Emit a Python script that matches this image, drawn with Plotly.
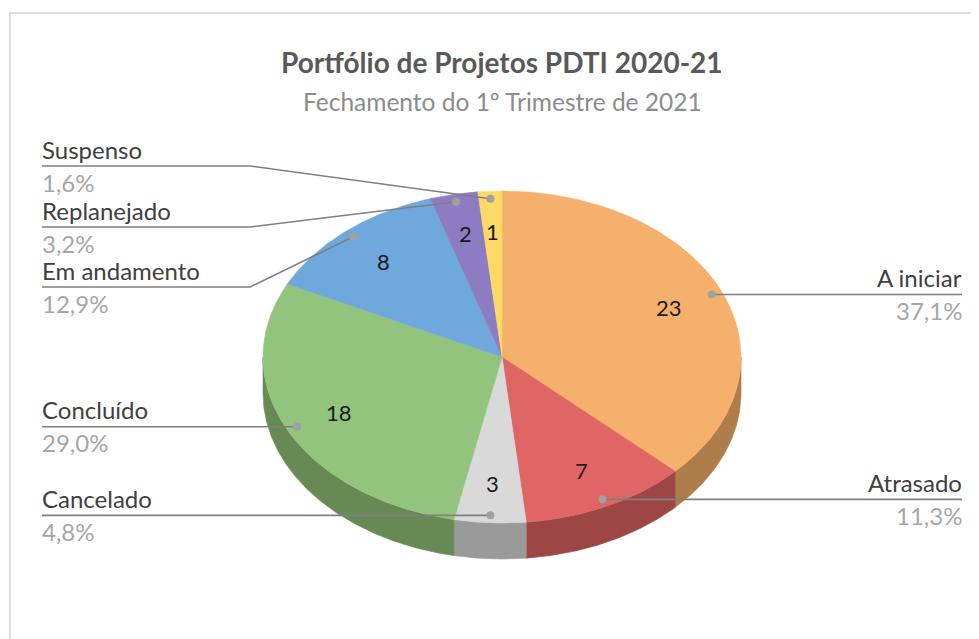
import numpy as np
import plotly.graph_objects as go

# ---------------- data ----------------
categories = ["A iniciar", "Atrasado", "Cancelado", "Concluído", "Em andamento", "Replanejado", "Suspenso"]
values = [23, 7, 3, 18, 8, 2, 1]
title_text = "Portfólio de Projetos PDTI 2020-21"
subtitle_text = "Fechamento do 1º Trimestre de 2021"

# ---------------- style / layout ----------------
top_colors = ["#F5B06B", "#E06666", "#D9D9D9", "#93C47D", "#6FA8DC", "#8E7CC3", "#FFD966"]
side_colors = ["#AE7D4A", "#9E4646", "#9A9A9A", "#678A55", "#4F78A0", "#65588C", "#B89C4A"]
W, H = 979, 639
OFF = 8  # page body margin
CX, CY, RX, RY, DEPTH = 502, 357, 239, 166, 36
VALUE_R = 0.76
DOT_R = 0.955
FONT = "Lato"
LBL_SIZE = 24
# label placement: side and y of the label's horizontal rule (None -> at the dot)
label_side = ["right", "right", "left", "left", "left", "left", "left"]
label_rule_y = [None, None, None, None, 287, 227, 166]
LEFT_X, LEFT_ELBOW, RIGHT_X = 42, 250, 962

total = sum(values)
cum = np.concatenate([[0], np.cumsum(values)]) / total * 360.0


def pt(theta_deg, frac=1.0, dy=0.0):
    t = np.radians(theta_deg)
    return CX + RX * frac * np.sin(t), CY - RY * frac * np.cos(t) + dy


fig = go.Figure()

# side walls (front half only: 90..270 deg)
for i, cat in enumerate(categories):
    a, b = cum[i], cum[i + 1]
    a2, b2 = max(a, 90.0), min(b, 270.0)
    if b2 <= a2:
        continue
    th = np.linspace(a2, b2, max(int((b2 - a2) * 2), 4))
    xs_top, ys_top = pt(th)
    xs_bot, ys_bot = pt(th[::-1], dy=DEPTH)
    xs = np.concatenate([xs_top, xs_bot, [xs_top[0]]])
    ys = np.concatenate([ys_top, ys_bot, [ys_top[0]]])
    fig.add_trace(go.Scatter(x=xs, y=ys, mode="lines", fill="toself",
                             fillcolor=side_colors[i],
                             line=dict(color=side_colors[i], width=0.6),
                             hoverinfo="skip", showlegend=False))

# top faces
for i, cat in enumerate(categories):
    a, b = cum[i], cum[i + 1]
    th = np.linspace(a, b, max(int((b - a) * 2), 4))
    xa, ya = pt(th)
    xs = np.concatenate([[CX], xa, [CX]])
    ys = np.concatenate([[CY], ya, [CY]])
    fig.add_trace(go.Scatter(x=xs, y=ys, mode="lines", fill="toself",
                             fillcolor=top_colors[i],
                             line=dict(color=top_colors[i], width=0.6),
                             hoverinfo="text", text=f"{cat}: {values[i]}",
                             showlegend=False))

annotations = []
# value labels inside slices
for i, cat in enumerate(categories):
    mid = (cum[i] + cum[i + 1]) / 2
    vx, vy = pt(mid, VALUE_R)
    annotations.append(dict(x=vx, y=vy, text=str(values[i]), showarrow=False,
                            font=dict(family=FONT, size=22, color="#1A1A1A"),
                            xanchor="center", yanchor="middle",
                            borderpad=0, borderwidth=0))

# leader lines, dots and category labels
for i, cat in enumerate(categories):
    mid = (cum[i] + cum[i + 1]) / 2
    dx, dy = pt(mid, DOT_R)
    ry = label_rule_y[i] if label_rule_y[i] is not None else dy
    if label_side[i] == "right":
        lx = [dx, RIGHT_X]
        ly = [dy, dy]
        tx, anchor = RIGHT_X, "right"
    else:
        if label_rule_y[i] is None:
            lx = [LEFT_X, dx]
            ly = [ry, dy]
        else:
            lx = [LEFT_X, LEFT_ELBOW, dx]
            ly = [ry, ry, dy]
        tx, anchor = LEFT_X, "left"
    fig.add_trace(go.Scatter(x=lx, y=ly, mode="lines",
                             line=dict(color="#7F7F7F", width=1.6),
                             hoverinfo="skip", showlegend=False))
    fig.add_trace(go.Scatter(x=[dx], y=[dy], mode="markers",
                             marker=dict(color="#A0A0A0", size=8),
                             hoverinfo="skip", showlegend=False))
    pct = f"{values[i] / total * 100:.1f}%".replace(".", ",")
    annotations.append(dict(x=tx, y=ry - 2.5, text=cat, showarrow=False,
                            font=dict(family=FONT, size=LBL_SIZE, color="#404040"),
                            xanchor=anchor, yanchor="bottom",
                            borderpad=0, borderwidth=0))
    annotations.append(dict(x=tx, y=ry + 1.5, text=pct, showarrow=False,
                            font=dict(family=FONT, size=LBL_SIZE, color="#A6A6A6"),
                            xanchor=anchor, yanchor="top",
                            borderpad=0, borderwidth=0))

# titles
annotations.append(dict(x=CX, y=62, text=f"<b>{title_text}</b>", showarrow=False,
                        font=dict(family=FONT, size=28, color="#595959"),
                        xanchor="center", yanchor="middle"))
annotations.append(dict(x=CX, y=101, text=subtitle_text, showarrow=False,
                        font=dict(family=FONT, size=24.5, color="#8C8C8C"),
                        xanchor="center", yanchor="middle"))

fig.update_layout(
    width=W - OFF, height=H - OFF, autosize=False,
    margin=dict(l=0, r=0, t=0, b=0),
    paper_bgcolor="white", plot_bgcolor="white",
    xaxis=dict(range=[OFF, W], visible=False, fixedrange=True),
    yaxis=dict(range=[H, OFF], visible=False, fixedrange=True),
    annotations=annotations,
    shapes=[dict(type="rect", xref="x", yref="y", x0=10, y0=13, x1=1010, y1=700,
                 line=dict(color="#D4D4D4", width=1.5), fillcolor="rgba(0,0,0,0)",
                 layer="below")],
    showlegend=False,
)

fig.write_html("out.html")
